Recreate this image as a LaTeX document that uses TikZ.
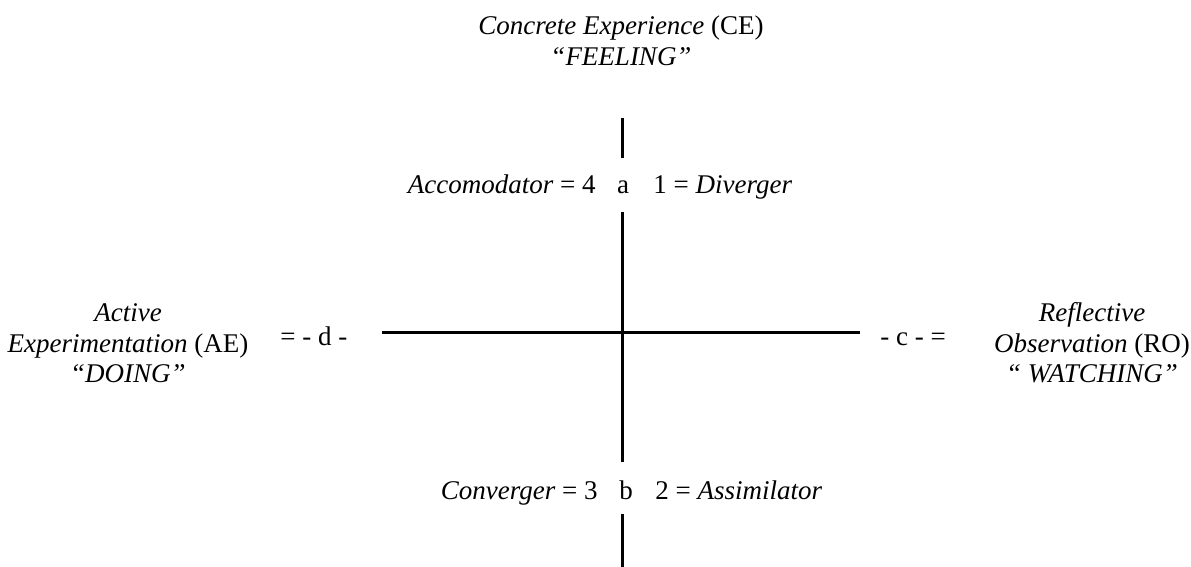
\documentclass[tikz,border=0pt]{standalone}
\usepackage{fontspec}
\setmainfont{Liberation Serif}
\begin{document}
\begin{tikzpicture}[x=0.5pt, y=-0.5pt,
    lbl/.style={font=\fontsize{13.5}{15.5}\selectfont, inner sep=0pt, anchor=base, align=center},
    axis/.style={line width=1.5pt}]
    \useasboundingbox (0,0) rectangle (1191,567);

    % poles
    \node[lbl] (ce) at (621,66) {\textit{Concrete Experience} (CE)\\\textit{“FEELING”}};
    \node[lbl] (ae) at (128,383) {\textit{Active}\\\textit{Experimentation} (AE)\\\textit{“DOING”}};
    \node[lbl] (ro) at (1092,383) {\textit{Reflective}\\\textit{Observation} (RO)\\\textit{“ WATCHING”}};

    % axis tags
    \node[lbl, anchor=base west] (d) at (280,345) {= - d -};
    \node[lbl, anchor=base west] (c) at (880,345) {- c - =};

    % upper quadrants
    \node[lbl] (a) at (623,194) {a};
    \node[lbl, anchor=base east] (acc) at (596,194) {\textit{Accomodator} = 4};
    \node[lbl, anchor=base west] (div) at (653,194) {1 = \textit{Diverger}};

    % lower quadrants
    \node[lbl] (b) at (626,499) {b};
    \node[lbl, anchor=base east] (conv) at (598,499) {\textit{Converger} = 3};
    \node[lbl, anchor=base west] (assim) at (655,499) {2 = \textit{Assimilator}};

    % axes
    \coordinate (v1) at (622,118);
    \coordinate (v2) at (622,158);
    \coordinate (v3) at (622,212);
    \coordinate (v4) at (622,462);
    \coordinate (v5) at (622,514);
    \coordinate (v6) at (622,567);
    \coordinate (h1) at (382,333);
    \coordinate (h2) at (860,333);
    \draw[axis] (v1) -- (v2);
    \draw[axis] (v3) -- (v4);
    \draw[axis] (v5) -- (v6);
    \draw[axis] (h1) -- (h2);
\end{tikzpicture}
\end{document}
